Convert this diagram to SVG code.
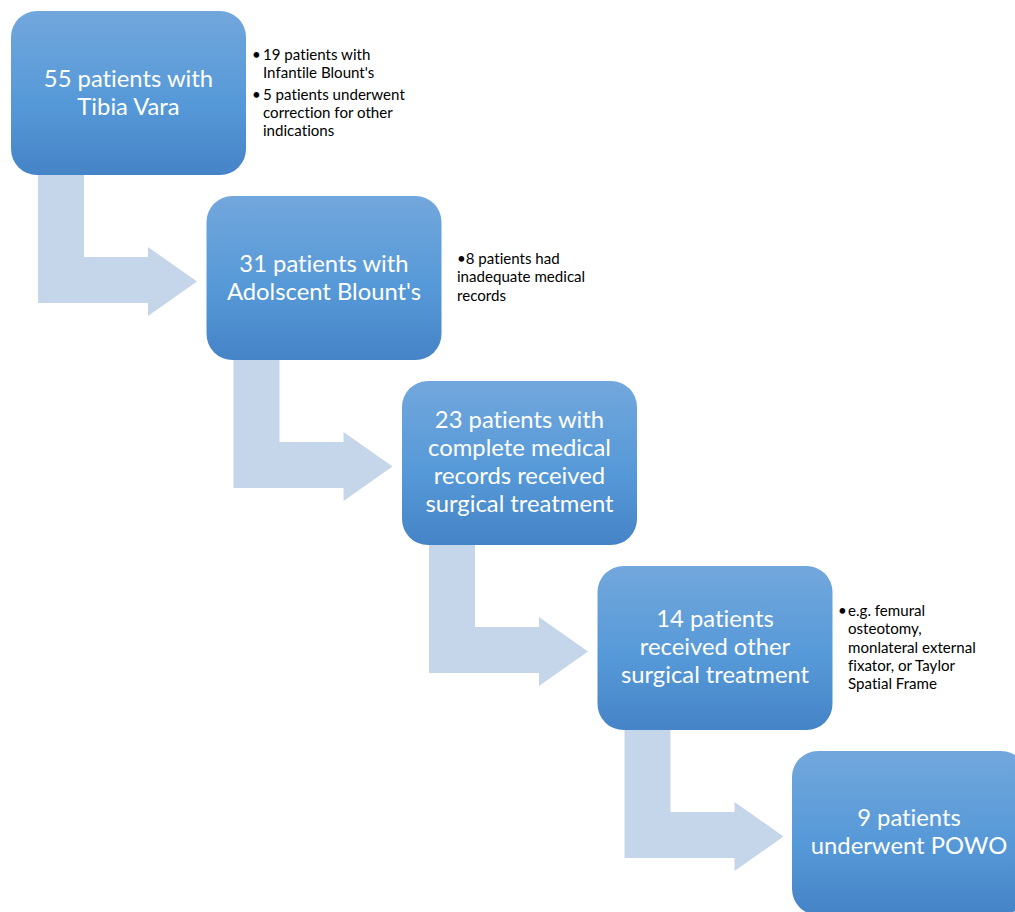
<svg xmlns="http://www.w3.org/2000/svg" width="1015" height="912" viewBox="0 0 1015 912">
<defs>
<linearGradient id="g" x1="0" y1="0" x2="0" y2="1">
<stop offset="0" stop-color="#72a7dc"/>
<stop offset="0.55" stop-color="#5699d8"/>
<stop offset="1" stop-color="#4584c7"/>
</linearGradient>
<path id="arr" d="M38,160 L84,160 L84,257 L148,257 L148,247 L197,281.5 L148,316 L148,303 L38,303 Z"/>
</defs>
<style>
.box{fill:url(#g);}
.arrow{fill:#c5d5ea;}
.bt{font-family:Lato,"Open Sans",sans-serif;font-size:23.8px;fill:#fff;text-anchor:middle;font-variant-ligatures:none;}
.st{font-family:Lato,"Open Sans",sans-serif;font-size:15.1px;fill:#000;font-variant-ligatures:none;}
</style>
<rect width="1015" height="912" fill="#fff"/>
<g id="connectors">
<use href="#arr" class="arrow"/>
<use href="#arr" class="arrow" transform="translate(195.5,185)"/>
<use href="#arr" class="arrow" transform="translate(391,370)"/>
<use href="#arr" class="arrow" transform="translate(586.5,555)"/>
</g>
<g id="n1">
<rect class="box" x="11" y="11" width="235" height="164" rx="26"/>
<text class="bt" x="128.5" y="87">55 patients with</text>
<text class="bt" x="128.5" y="115">Tibia Vara</text>
</g>
<g id="n1note">
<text class="st" x="252" y="60">•</text><text class="st" x="263" y="60">19 patients with</text>
<text class="st" x="263" y="78">Infantile Blount's</text>
<text class="st" x="252" y="100">•</text><text class="st" x="263" y="100">5 patients underwent</text>
<text class="st" x="263" y="118">correction for other</text>
<text class="st" x="263" y="136">indications</text>
</g>
<g id="n2">
<rect class="box" x="206.5" y="196" width="235" height="164" rx="26"/>
<text class="bt" x="324" y="272">31 patients with</text>
<text class="bt" x="324" y="300">Adolscent Blount's</text>
</g>
<g id="n2note">
<text class="st" x="457" y="264">•8 patients had</text>
<text class="st" x="457" y="282">inadequate medical</text>
<text class="st" x="457" y="301">records</text>
</g>
<g id="n3">
<rect class="box" x="402" y="381" width="235" height="164" rx="26"/>
<text class="bt" x="519.5" y="428">23 patients with</text>
<text class="bt" x="519.5" y="456">complete medical</text>
<text class="bt" x="519.5" y="484">records received</text>
<text class="bt" x="519.5" y="512">surgical treatment</text>
</g>
<g id="n4">
<rect class="box" x="597.5" y="566" width="235" height="164" rx="26"/>
<text class="bt" x="715" y="627">14 patients</text>
<text class="bt" x="715" y="655">received other</text>
<text class="bt" x="715" y="683">surgical treatment</text>
</g>
<g id="n4note">
<text class="st" x="838" y="616">•</text><text class="st" x="848" y="616">e.g. femural</text>
<text class="st" x="848" y="634">osteotomy,</text>
<text class="st" x="848" y="653">monlateral external</text>
<text class="st" x="848" y="671">fixator, or Taylor</text>
<text class="st" x="848" y="689">Spatial Frame</text>
</g>
<g id="n5">
<rect class="box" x="792" y="751" width="235" height="164" rx="26"/>
<text class="bt" x="909" y="826">9 patients</text>
<text class="bt" x="909" y="854">underwent POWO</text>
</g>
</svg>
